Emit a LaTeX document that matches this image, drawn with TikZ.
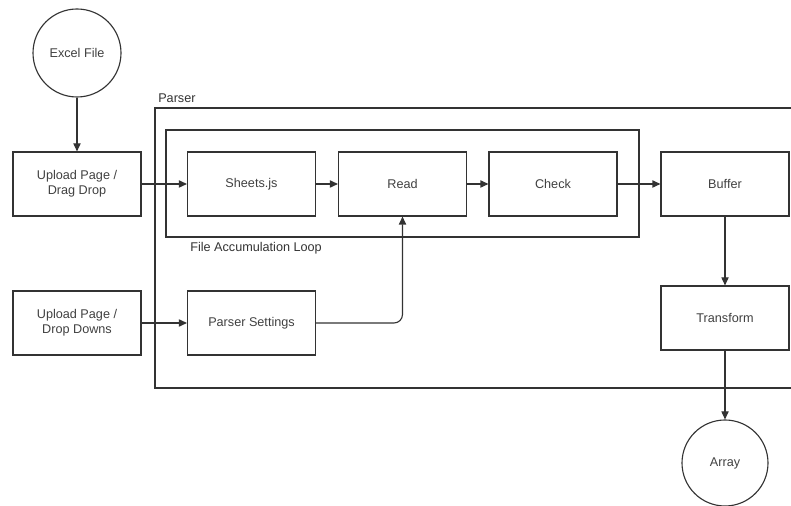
\documentclass[tikz,border=0pt]{standalone}
\usepackage{fontspec}
\setmainfont{Liberation Sans}
\usepackage{tikz}
\usetikzlibrary{arrows.meta,positioning,calc}

\begin{document}
\begin{tikzpicture}[
    >={Triangle[length=2mm,width=1.8mm]},
    flow/.style={->,line width=0.8pt,draw=black!80},
    frame/.style={line width=0.8pt,draw=black!80},
    stage/.style={draw=black!80,line width=0.8pt,minimum width=3.2cm,
      minimum height=1.6cm,align=center,font=\fontsize{9}{10.5}\selectfont,
      text=black!75},
    terminal/.style={circle,draw=black!80,line width=0.8pt,minimum size=2.2cm,
      inner sep=0pt,font=\fontsize{9}{10.5}\selectfont,text=black!75},
    boxlabel/.style={font=\fontsize{9}{10.5}\selectfont,text=black!80,anchor=west,
      inner sep=0pt}
  ]
    \useasboundingbox (0,0) rectangle (19.775,12.65);

    % parser frame, open to the right
    \coordinate (ptopright) at (19.8,9.95);
    \coordinate (ptopleft) at (3.875,9.95);
    \coordinate (pbotleft) at (3.875,2.95);
    \coordinate (pbotright) at (19.8,2.95);
    \draw[frame] (ptopright) -- (ptopleft) -- (pbotleft) -- (pbotright);
    \node[boxlabel] (parserlabel) at (3.95,10.2) {Parser};

    % accumulation loop
    \node[frame,minimum width=11.825cm,minimum height=2.675cm,inner sep=0pt]
      (loop) at (10.0625,8.0625) {};
    \node[boxlabel] (looplabel) at (4.75,6.45) {File Accumulation Loop};

    \node[terminal] (excel) at (1.925,11.325) {Excel File};
    \node[stage] (dragdrop) at (1.925,8.05) {Upload Page /\\Drag Drop};
    \node[stage] (sheets) at (6.2875,8.05) {Sheets.js};
    \node[stage] (read) at (10.0625,8.05) {Read};
    \node[stage] (check) at (13.825,8.05) {Check};
    \node[stage] (buffer) at (18.125,8.05) {Buffer};
    \node[stage] (dropdowns) at (1.925,4.575) {Upload Page /\\Drop Downs};
    \node[stage] (settings) at (6.2875,4.575) {Parser Settings};
    \node[stage] (transform) at (18.125,4.7) {Transform};
    \node[terminal,minimum size=2.15cm] (array) at (18.125,1.075) {Array};

    \draw[flow] (excel) -- (dragdrop);
    \draw[flow] (dragdrop) -- (sheets);
    \draw[flow] (sheets) -- (read);
    \draw[flow] (read) -- (check);
    \draw[flow] (check) -- (buffer);
    \draw[flow] (buffer) -- (transform);
    \draw[flow] (transform) -- (array);
    \draw[flow] (dropdowns) -- (settings);
    \draw[flow,rounded corners=6pt] (settings.east) -| (read.south);
  \end{tikzpicture}
\end{document}
